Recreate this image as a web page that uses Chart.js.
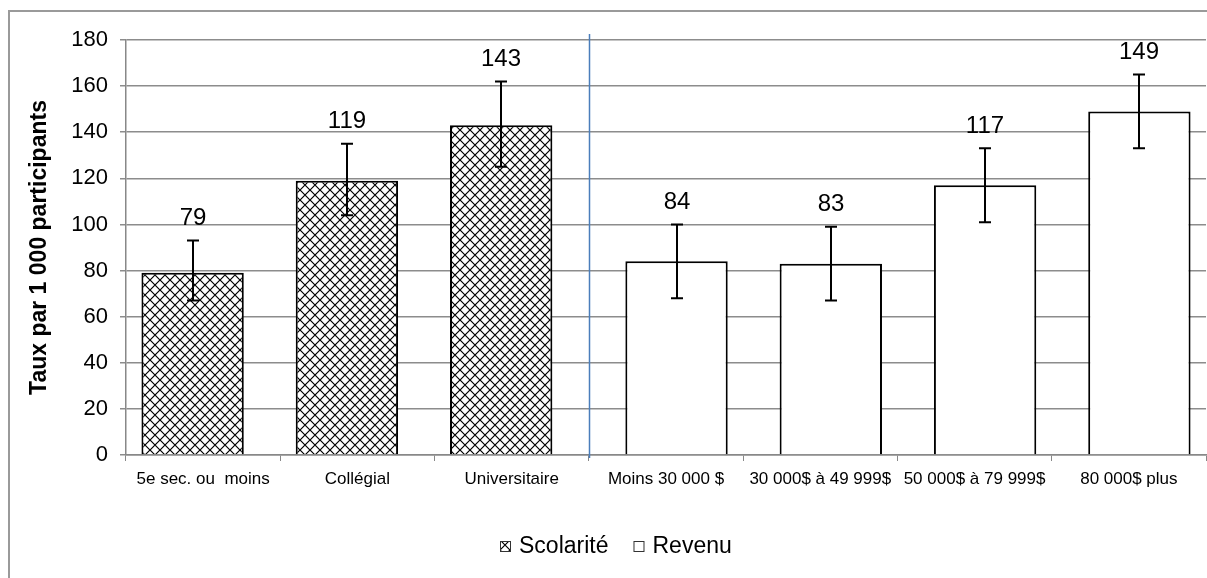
<!DOCTYPE html>
<html>
<head>
<meta charset="utf-8">
<script src="https://cdn.jsdelivr.net/npm/chart.js@4.4.1/dist/chart.umd.min.js"></script>
<style>
  html, body { margin: 0; padding: 0; background: #fff; overflow: hidden; }
  #frame { position: absolute; left: 8px; top: 10px; width: 1400px; height: 800px; border: 2px solid #9a9a9a; }
  #wrap { position: absolute; left: 0; top: 0; width: 1207px; height: 578px; }
</style>
</head>
<body>
<div id="frame"></div>
<div id="wrap"><canvas id="c" width="1207" height="578"></canvas></div>
<script>
const categories = ['5e sec. ou  moins', 'Collégial', 'Universitaire', 'Moins 30 000 $', '30 000$ à 49 999$', '50 000$ à 79 999$', '80 000$ plus'];
const seriesNames = ['Scolarité', 'Revenu'];
const scolarite = [79, 119, 143, null, null, null, null];
const revenu = [null, null, null, 84, 83, 117, 149];
const errLow = [67, 104, 125, 68, 67, 101, 133];
const errHigh = [93, 135, 162, 100, 99, 133, 165];
const yMin = 0, yMax = 180, yStep = 20;

const FONT = '"Liberation Sans", Arial, sans-serif';

function makePattern() {
  const p = document.createElement('canvas');
  p.width = 10; p.height = 10;
  const g = p.getContext('2d');
  g.fillStyle = '#fff'; g.fillRect(0, 0, 10, 10);
  g.strokeStyle = '#000'; g.lineWidth = 1.2;
  g.beginPath();
  g.moveTo(0, 0); g.lineTo(10, 10);
  g.moveTo(10, 0); g.lineTo(0, 10);
  g.stroke();
  return document.getElementById('c').getContext('2d').createPattern(p, 'repeat');
}
const hatch = makePattern();
const fills = [hatch, '#fff'];

const overlay = {
  id: 'overlay',
  afterDatasetsDraw(chart) {
    const ctx = chart.ctx, xs = chart.scales.x, ys = chart.scales.y, ca = chart.chartArea;
    ctx.save();
    // separator between the two groups
    const sx = Math.round((xs.getPixelForValue(2) + xs.getPixelForValue(3)) / 2) + 0.5;
    ctx.strokeStyle = '#4a7ebb'; ctx.lineWidth = 1.5;
    ctx.beginPath(); ctx.moveTo(sx, ca.top - 6); ctx.lineTo(sx, ca.bottom + 3); ctx.stroke();
    // error bars + value labels
    ctx.strokeStyle = '#000'; ctx.lineWidth = 2;
    ctx.fillStyle = '#000';
    ctx.font = '24px ' + FONT;
    ctx.textAlign = 'center'; ctx.textBaseline = 'middle';
    for (let i = 0; i < categories.length; i++) {
      const dsIndex = scolarite[i] != null ? 0 : 1;
      const v = dsIndex === 0 ? scolarite[i] : revenu[i];
      const bar = chart.getDatasetMeta(dsIndex).data[i];
      const x = Math.round(bar.x);
      const yl = ys.getPixelForValue(errLow[i]);
      const yh = ys.getPixelForValue(errHigh[i]);
      ctx.beginPath();
      ctx.moveTo(x, yl); ctx.lineTo(x, yh);
      ctx.moveTo(x - 6, yl); ctx.lineTo(x + 6, yl);
      ctx.moveTo(x - 6, yh); ctx.lineTo(x + 6, yh);
      ctx.stroke();
      ctx.fillText(String(v), x, yh - 22);
    }
    // legend
    ctx.font = '23px ' + FONT;
    ctx.textAlign = 'left';
    const box = 10, gapBT = 9, gapItems = 25;
    const widths = seriesNames.map(n => ctx.measureText(n).width);
    const total = widths.reduce((a, w) => a + box + gapBT + w, 0) + gapItems * (seriesNames.length - 1);
    let lx = Math.round(616 - total / 2);
    const ly = 546;
    seriesNames.forEach((n, k) => {
      ctx.fillStyle = fills[k];
      ctx.fillRect(lx, ly - box / 2, box, box);
      ctx.strokeStyle = '#333'; ctx.lineWidth = 1;
      ctx.strokeRect(lx + 0.5, Math.round(ly - box / 2) + 0.5, box, box);
      ctx.fillStyle = '#000';
      ctx.fillText(n, lx + box + gapBT, ly + 1);
      lx += box + gapBT + widths[k] + gapItems;
    });
    ctx.restore();
  }
};

new Chart(document.getElementById('c'), {
  type: 'bar',
  data: {
    labels: categories,
    datasets: [
      { label: seriesNames[0], data: scolarite, backgroundColor: hatch, borderColor: '#000', borderWidth: 2, borderSkipped: 'bottom' },
      { label: seriesNames[1], data: revenu, backgroundColor: '#fff', borderColor: '#000', borderWidth: 2, borderSkipped: 'bottom' }
    ]
  },
  options: {
    responsive: false,
    animation: false,
    datasets: { bar: { barPercentage: 4.86, categoryPercentage: 0.273 } },
    layout: { padding: { left: 26, right: 1, top: 40, bottom: 0 } },
    plugins: {
      tooltip: { enabled: false },
      legend: { display: false }
    },
    scales: {
      x: {
        afterFit(a) { a.height = 123; },
        grid: { display: true, drawOnChartArea: false, drawTicks: true, tickLength: 6, color: '#888', offset: true },
        border: { display: true, color: '#888', width: 1.5 },
        ticks: { color: '#000', padding: 8, maxRotation: 0, autoSkip: false, font: { family: FONT, size: 17 } }
      },
      y: {
        min: yMin, max: yMax,
        afterFit(a) { a.width = 100; },
        grid: { color: '#8c8c8c', lineWidth: 1.5, tickLength: 6 },
        border: { display: true, color: '#888', width: 1.5 },
        ticks: { stepSize: yStep, color: '#000', padding: 12, font: { family: FONT, size: 22 } },
        title: { display: true, text: 'Taux par 1 000 participants', color: '#000', padding: { top: 0, bottom: 0 }, font: { family: FONT, size: 23, weight: 'bold' } }
      }
    }
  },
  plugins: [overlay]
});
</script>
</body>
</html>
